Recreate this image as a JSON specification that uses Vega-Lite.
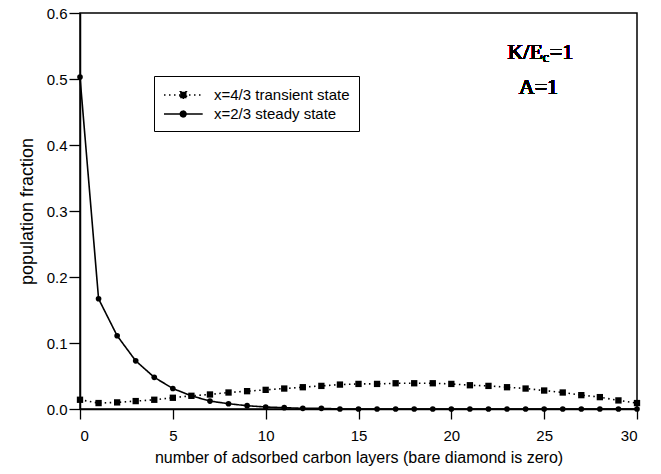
{
  "$schema": "https://vega.github.io/schema/vega-lite/v6.json",
  "width": 557,
  "height": 396,
  "autosize": "none",
  "padding": {"left": 80, "top": 13, "right": 24, "bottom": 65},
  "background": "white",
  "config": {
    "view": {"stroke": "black", "strokeWidth": 1.5},
    "font": "Liberation Sans",
    "axis": {
      "domainColor": "black", "domainWidth": 1.5, "tickColor": "black", "tickWidth": 1.3,
      "labelColor": "black", "titleColor": "black", "grid": false,
      "labelFont": "Liberation Sans", "titleFont": "Liberation Sans", "titleFontWeight": "normal"
    }
  },
  "data": {"values": [
    {"x": 0, "s": "x=4/3 transient state", "y": 0.014},
    {"x": 1, "s": "x=4/3 transient state", "y": 0.009},
    {"x": 2, "s": "x=4/3 transient state", "y": 0.010},
    {"x": 3, "s": "x=4/3 transient state", "y": 0.012},
    {"x": 4, "s": "x=4/3 transient state", "y": 0.014},
    {"x": 5, "s": "x=4/3 transient state", "y": 0.017},
    {"x": 6, "s": "x=4/3 transient state", "y": 0.020},
    {"x": 7, "s": "x=4/3 transient state", "y": 0.022},
    {"x": 8, "s": "x=4/3 transient state", "y": 0.025},
    {"x": 9, "s": "x=4/3 transient state", "y": 0.027},
    {"x": 10, "s": "x=4/3 transient state", "y": 0.029},
    {"x": 11, "s": "x=4/3 transient state", "y": 0.031},
    {"x": 12, "s": "x=4/3 transient state", "y": 0.033},
    {"x": 13, "s": "x=4/3 transient state", "y": 0.035},
    {"x": 14, "s": "x=4/3 transient state", "y": 0.037},
    {"x": 15, "s": "x=4/3 transient state", "y": 0.038},
    {"x": 16, "s": "x=4/3 transient state", "y": 0.038},
    {"x": 17, "s": "x=4/3 transient state", "y": 0.039},
    {"x": 18, "s": "x=4/3 transient state", "y": 0.039},
    {"x": 19, "s": "x=4/3 transient state", "y": 0.039},
    {"x": 20, "s": "x=4/3 transient state", "y": 0.038},
    {"x": 21, "s": "x=4/3 transient state", "y": 0.036},
    {"x": 22, "s": "x=4/3 transient state", "y": 0.035},
    {"x": 23, "s": "x=4/3 transient state", "y": 0.033},
    {"x": 24, "s": "x=4/3 transient state", "y": 0.031},
    {"x": 25, "s": "x=4/3 transient state", "y": 0.028},
    {"x": 26, "s": "x=4/3 transient state", "y": 0.025},
    {"x": 27, "s": "x=4/3 transient state", "y": 0.021},
    {"x": 28, "s": "x=4/3 transient state", "y": 0.018},
    {"x": 29, "s": "x=4/3 transient state", "y": 0.013},
    {"x": 30, "s": "x=4/3 transient state", "y": 0.009},
    {"x": 0, "s": "x=2/3 steady state", "y": 0.503},
    {"x": 1, "s": "x=2/3 steady state", "y": 0.167},
    {"x": 2, "s": "x=2/3 steady state", "y": 0.111},
    {"x": 3, "s": "x=2/3 steady state", "y": 0.073},
    {"x": 4, "s": "x=2/3 steady state", "y": 0.048},
    {"x": 5, "s": "x=2/3 steady state", "y": 0.031},
    {"x": 6, "s": "x=2/3 steady state", "y": 0.020},
    {"x": 7, "s": "x=2/3 steady state", "y": 0.012},
    {"x": 8, "s": "x=2/3 steady state", "y": 0.008},
    {"x": 9, "s": "x=2/3 steady state", "y": 0.005},
    {"x": 10, "s": "x=2/3 steady state", "y": 0.003},
    {"x": 11, "s": "x=2/3 steady state", "y": 0.002},
    {"x": 12, "s": "x=2/3 steady state", "y": 0.001},
    {"x": 13, "s": "x=2/3 steady state", "y": 0.001},
    {"x": 14, "s": "x=2/3 steady state", "y": 0.0},
    {"x": 15, "s": "x=2/3 steady state", "y": 0.0},
    {"x": 16, "s": "x=2/3 steady state", "y": 0.0},
    {"x": 17, "s": "x=2/3 steady state", "y": 0.0},
    {"x": 18, "s": "x=2/3 steady state", "y": 0.0},
    {"x": 19, "s": "x=2/3 steady state", "y": 0.0},
    {"x": 20, "s": "x=2/3 steady state", "y": 0.0},
    {"x": 21, "s": "x=2/3 steady state", "y": 0.0},
    {"x": 22, "s": "x=2/3 steady state", "y": 0.0},
    {"x": 23, "s": "x=2/3 steady state", "y": 0.0},
    {"x": 24, "s": "x=2/3 steady state", "y": 0.0},
    {"x": 25, "s": "x=2/3 steady state", "y": 0.0},
    {"x": 26, "s": "x=2/3 steady state", "y": 0.0},
    {"x": 27, "s": "x=2/3 steady state", "y": 0.0},
    {"x": 28, "s": "x=2/3 steady state", "y": 0.0},
    {"x": 29, "s": "x=2/3 steady state", "y": 0.0},
    {"x": 30, "s": "x=2/3 steady state", "y": 0.0}
  ]},
  "encoding": {
    "x": {
      "field": "x", "type": "quantitative",
      "scale": {"domain": [0, 30], "nice": false, "zero": false},
      "axis": {
        "values": [0, 5, 10, 15, 20, 25, 30], "tickSize": 10, "labelPadding": 9, "labelFontSize": 15,
        "title": "number of adsorbed carbon layers (bare diamond is zero)", "titleFontSize": 16, "titlePadding": 6,
        "tickMinorStep": 2.5, "ticksMinor": true
      }
    },
    "y": {
      "field": "y", "type": "quantitative",
      "scale": {"domain": [0, 0.6], "nice": false},
      "axis": {
        "values": [0, 0.1, 0.2, 0.3, 0.4, 0.5, 0.6], "format": ".1f", "tickSize": 11, "labelPadding": 2, "labelFontSize": 15,
        "title": "population fraction", "titleFontSize": 18, "titlePadding": 10
      }
    }
  },
  "layer": [
    {
      "mark": {"type": "line", "color": "black", "strokeWidth": 1.6},
      "encoding": {
        "strokeDash": {
          "field": "s", "type": "nominal",
          "scale": {"domain": ["x=4/3 transient state", "x=2/3 steady state"], "range": [[1.5, 3.5], [1, 0]]},
          "legend": {
            "title": null, "orient": "none", "legendX": 74, "legendY": 63,
            "strokeColor": "black", "fillColor": "white", "padding": 9,
            "symbolSize": 324, "labelOffset": 31, "labelFontSize": 15, "labelFont": "Liberation Sans", "labelColor": "black",
            "rowPadding": 1, "symbolStrokeColor": "black", "symbolStrokeWidth": 1.5,
            "encode": {"symbols": {"update": {
              "shape": {"signal": "datum.value === 'x=4/3 transient state' ? 'M-1,0H3.3M0.8,-0.35h0.7v0.7h-0.7Z' : 'M-1,0H3.3M1.45,0A0.32,0.32,0,1,1,0.81,0A0.32,0.32,0,1,1,1.45,0Z'"},
              "fill": {"value": "black"}, "stroke": {"value": "black"}, "opacity": {"value": 1}
            }}}
          }
        }
      }
    },
    {
      "transform": [{"filter": "datum.s === 'x=4/3 transient state'"}],
      "mark": {"type": "point", "shape": "square", "filled": true, "color": "black", "opacity": 1, "size": 40}
    },
    {
      "transform": [{"filter": "datum.s === 'x=2/3 steady state'"}],
      "mark": {"type": "point", "shape": "circle", "filled": true, "color": "black", "opacity": 1, "size": 32}
    },
    {
      "mark": {"type": "text", "font": "Times New Roman", "fontSize": 22, "fontWeight": "normal", "align": "right", "baseline": "alphabetic", "color": "black"},
      "encoding": {"x": {"datum": 24.93}, "y": {"datum": 0.5303}, "text": {"value": "K/E"}}
    },
    {
      "mark": {"type": "text", "font": "Times New Roman", "fontSize": 14, "fontWeight": "normal", "align": "left", "baseline": "alphabetic", "dy": 3, "color": "black"},
      "encoding": {"x": {"datum": 24.93}, "y": {"datum": 0.5303}, "text": {"value": "c"}}
    },
    {
      "mark": {"type": "text", "font": "Times New Roman", "fontSize": 22, "fontWeight": "normal", "align": "left", "baseline": "alphabetic", "dx": 7, "color": "black"},
      "encoding": {"x": {"datum": 24.93}, "y": {"datum": 0.5303}, "text": {"value": "=1"}}
    },
    {
      "mark": {"type": "text", "font": "Times New Roman", "fontSize": 22, "fontWeight": "normal", "align": "center", "baseline": "alphabetic", "color": "black"},
      "encoding": {"x": {"datum": 24.69}, "y": {"datum": 0.4773}, "text": {"value": "A=1"}}
    }
  ]
}
